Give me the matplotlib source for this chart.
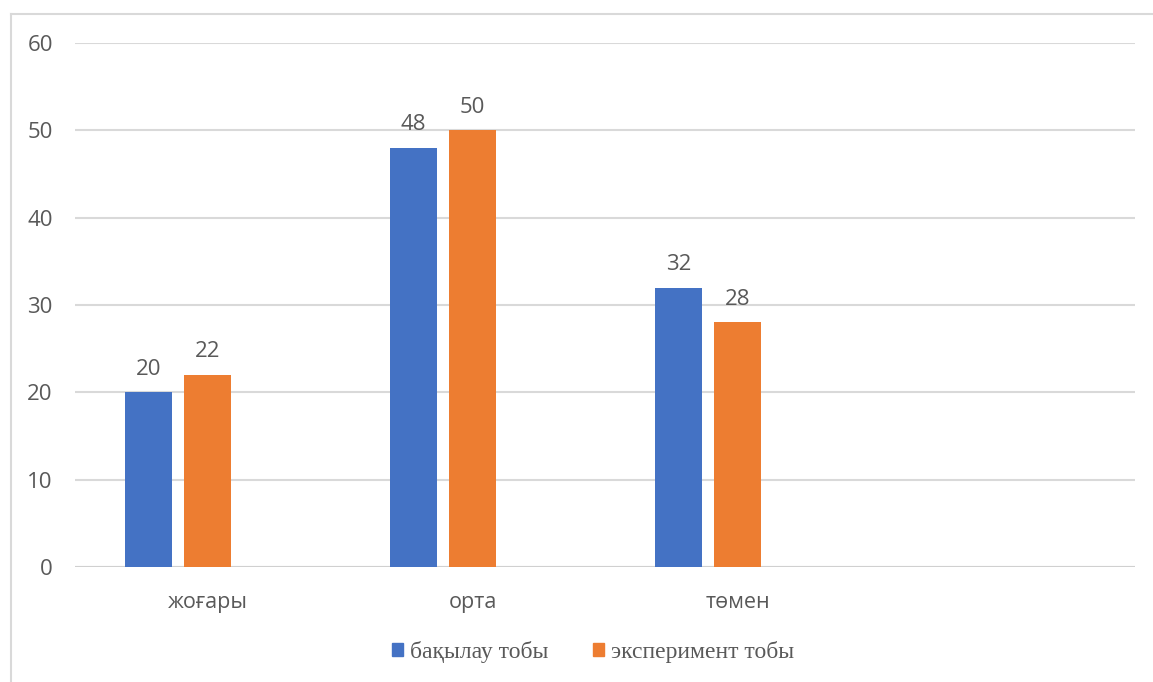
import matplotlib
matplotlib.use("Agg")
import matplotlib.pyplot as plt
from matplotlib.lines import Line2D
from matplotlib.patches import Patch

categories = ["жоғары", "орта", "төмен", ""]
series_names = ["бақылау тобы", "эксперимент тобы"]
control = [20, 48, 32]
experiment = [22, 50, 28]
yticks = [0, 10, 20, 30, 40, 50, 60]

blue = "#4472C4"
orange = "#ED7D31"
txt = "#595959"
grid = "#D9D9D9"

W, H = 1153, 682
fig = plt.figure(figsize=(W / 100, H / 100), dpi=100)
ax = fig.add_axes([75 / W, 1 - 567 / H, (1135 - 75) / W, (567 - 43) / H])

width = 47 / 265
off = 59 / 265
xs = list(range(len(control)))
ax.bar([x - off for x in xs], control, width=width, color=blue, zorder=3)
ax.bar([x for x in xs], experiment, width=width, color=orange, zorder=3)

for x, v in zip(xs, control):
    ax.annotate(str(v), (x - off, v), xytext=(0, 9), textcoords="offset points",
                ha="center", va="bottom", color=txt, fontsize=16, family="Open Sans")
for x, v in zip(xs, experiment):
    ax.annotate(str(v), (x, v), xytext=(0, 9), textcoords="offset points",
                ha="center", va="bottom", color=txt, fontsize=16, family="Open Sans")

ax.set_xlim(-0.5, len(categories) - 0.5)
ax.set_ylim(0, 60)
ax.set_yticks(yticks)
ax.set_yticklabels([str(t) for t in yticks], color=txt, fontsize=16, family="Open Sans")
ax.set_xticks(range(len(categories)))
ax.set_xticklabels(categories, color=txt, fontsize=15.5, family="Open Sans")
ax.tick_params(axis="both", length=0)
ax.tick_params(axis="y", pad=16)
ax.tick_params(axis="x", pad=18)
ax.yaxis.grid(True, color=grid, linewidth=1.5, zorder=0)
for s in ax.spines.values():
    s.set_visible(False)
ax.axhline(0, color="#D0D0D0", linewidth=1.5, zorder=2)

handles = [Patch(color=blue, label=series_names[0]), Patch(color=orange, label=series_names[1])]
leg = fig.legend(handles=handles, loc="center", bbox_to_anchor=(593 / W, 1 - 652 / H), ncol=2,
                 frameon=False, prop={"family": "Liberation Serif", "size": 17},
                 handlelength=0.45, handleheight=0.45, handletextpad=0.3, columnspacing=1.9)
for t in leg.get_texts():
    t.set_color(txt)

# outer border (top and left)
fig.add_artist(Line2D([11 / W, 11 / W], [0, 1 - 14 / H], color="#D9D9D9", linewidth=1.5))
fig.add_artist(Line2D([11 / W, 1], [1 - 14 / H, 1 - 14 / H], color="#D9D9D9", linewidth=1.5))

fig.savefig("out.png", dpi=100)
